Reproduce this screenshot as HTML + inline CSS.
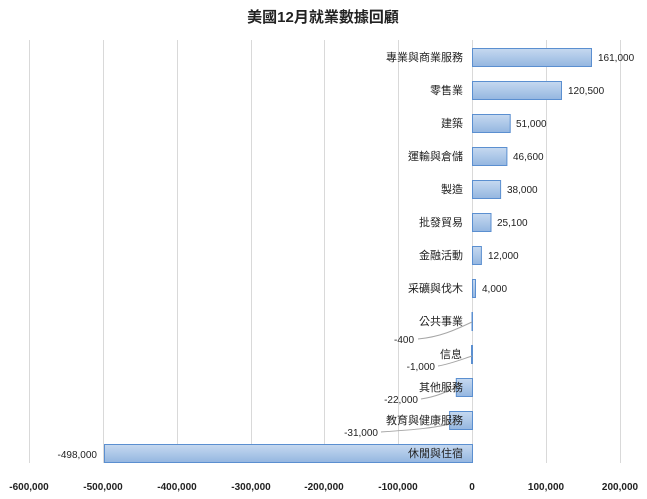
<!DOCTYPE html>
<html><head><meta charset="utf-8"><style>
body{margin:0;background:#fff}
svg text{font-family:"Liberation Sans","Noto Sans CJK TC",sans-serif;}
</style></head><body>
<svg width="647" height="494" xmlns="http://www.w3.org/2000/svg">
<defs><linearGradient id="g" x1="0" y1="0" x2="0" y2="1">
<stop offset="0" stop-color="#c6d9f0"/><stop offset="1" stop-color="#94b6e0"/></linearGradient></defs>
<text x="323" y="22" font-size="15" font-weight="bold" text-anchor="middle" fill="#222">美國12月就業數據回顧</text>
<g stroke="#d9d9d9" stroke-width="1">
<line x1="29.5" y1="40" x2="29.5" y2="463"/>
<line x1="103.5" y1="40" x2="103.5" y2="463"/>
<line x1="177.5" y1="40" x2="177.5" y2="463"/>
<line x1="251.5" y1="40" x2="251.5" y2="463"/>
<line x1="324.5" y1="40" x2="324.5" y2="463"/>
<line x1="398.5" y1="40" x2="398.5" y2="463"/>
<line x1="472.5" y1="40" x2="472.5" y2="463"/>
<line x1="546.5" y1="40" x2="546.5" y2="463"/>
<line x1="620.5" y1="40" x2="620.5" y2="463"/>
</g>
<g font-size="10" font-weight="bold" fill="#222" text-anchor="middle">
<text x="29" y="490">-600,000</text><text x="103" y="490">-500,000</text><text x="177" y="490">-400,000</text>
<text x="251" y="490">-300,000</text><text x="324" y="490">-200,000</text><text x="398" y="490">-100,000</text>
<text x="472" y="490">0</text><text x="546" y="490">100,000</text><text x="620" y="490">200,000</text>
</g>
<g fill="url(#g)" stroke="#5b8fd0" stroke-width="1">
<rect x="472.5" y="48.5" width="119" height="18"/>
<rect x="472.5" y="81.5" width="89" height="18"/>
<rect x="472.5" y="114.5" width="37.7" height="18"/>
<rect x="472.5" y="147.5" width="34.4" height="18"/>
<rect x="472.5" y="180.5" width="28.1" height="18"/>
<rect x="472.5" y="213.5" width="18.5" height="18"/>
<rect x="472.5" y="246.5" width="8.9" height="18"/>
<rect x="472.5" y="279.5" width="3" height="18"/>
<rect x="472" y="312.5" width="0.5" height="18"/>
<rect x="471.5" y="345.5" width="1" height="18"/>
<rect x="456.3" y="378.5" width="16.2" height="18"/>
<rect x="449.6" y="411.5" width="22.9" height="18"/>
<rect x="104.5" y="444.5" width="368" height="18"/>
</g>
<g fill="none" stroke="#a6a6a6" stroke-width="1">
<path d="M418 339 C440 337,455 330,472 322"/>
<path d="M438 366 C450 364,460 360,472 356"/>
<path d="M421 399 C440 396,450 390,460 385"/>
<path d="M381 432 C410 430,440 428,455 422"/>
</g>
<g font-size="11" fill="#222" text-anchor="end">
<text x="463" y="61">專業與商業服務</text>
<text x="463" y="94">零售業</text>
<text x="463" y="127">建築</text>
<text x="463" y="160">運輸與倉儲</text>
<text x="463" y="193">製造</text>
<text x="463" y="226">批發貿易</text>
<text x="463" y="259">金融活動</text>
<text x="463" y="292">采礦與伐木</text>
<text x="463" y="325">公共事業</text>
<text x="462" y="358">信息</text>
<text x="463" y="391">其他服務</text>
<text x="463" y="424">教育與健康服務</text>
<text x="463" y="457">休閒與住宿</text>
</g>
<g font-size="10" fill="#222">
<text x="598" y="61">161,000</text>
<text x="568" y="94">120,500</text>
<text x="516" y="127">51,000</text>
<text x="513" y="160">46,600</text>
<text x="507" y="193">38,000</text>
<text x="497" y="226">25,100</text>
<text x="488" y="259">12,000</text>
<text x="482" y="292">4,000</text>
</g>
<g font-size="10" fill="#222" text-anchor="end">
<text x="414" y="343">-400</text>
<text x="435" y="370">-1,000</text>
<text x="418" y="403">-22,000</text>
<text x="378" y="436">-31,000</text>
<text x="97" y="458">-498,000</text>
</g>
</svg>
</body></html>
